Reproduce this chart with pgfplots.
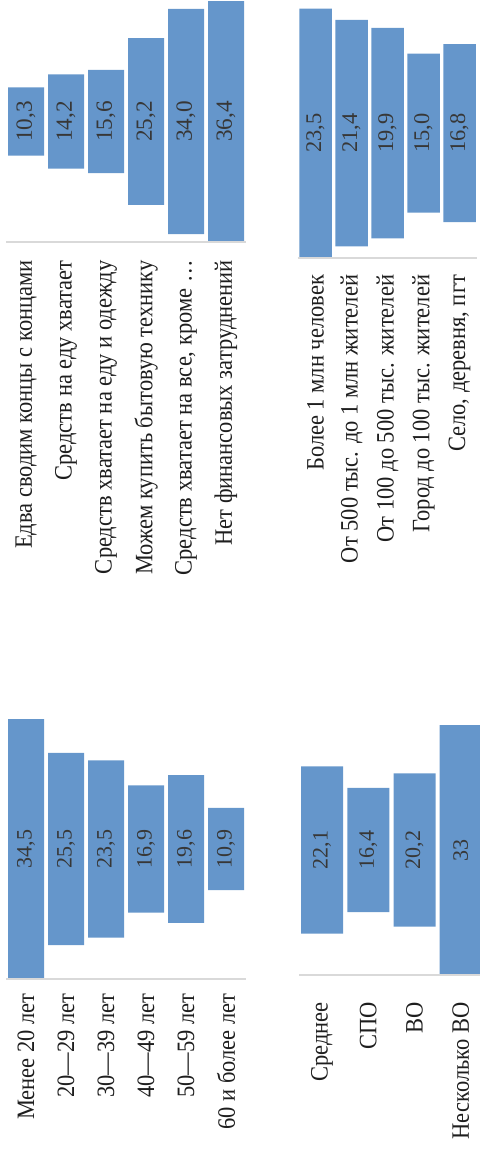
\documentclass[border=0pt]{standalone}
\usepackage{pgfplots}
\pgfplotsset{compat=1.18}
\usepackage{pgfplotstable}
\usepackage{fontspec}
\setmainfont{Liberation Serif}
\newfontfamily\cond[FakeStretch=0.9]{Liberation Serif}
\definecolor{barblue}{RGB}{101,150,203}
\definecolor{axisgray}{RGB}{217,217,217}
\definecolor{txt}{RGB}{30,30,30}
\definecolor{numtxt}{RGB}{55,55,55}

% x: category, off: invisible offset that centres the bar, v: value, mid: centre line
\pgfplotstableread{
x off v mid lab
0 13.05 10.3 18.2 10,3
1 11.1 14.2 18.2 14,2
2 10.4 15.6 18.2 15,6
3 5.6 25.2 18.2 25,2
4 1.2 34.0 18.2 34,0
5 0 36.4 18.2 36,4
}\finance

\pgfplotstableread{
x off v mid lab
0 0 23.5 11.75 23,5
1 1.05 21.4 11.75 21,4
2 1.8 19.9 11.75 19,9
3 4.25 15.0 11.75 15,0
4 3.35 16.8 11.75 16,8
}\settle

\pgfplotstableread{
x off v mid lab
0 0 34.5 17.25 34,5
1 4.5 25.5 17.25 25,5
2 5.5 23.5 17.25 23,5
3 8.8 16.9 17.25 16,9
4 7.45 19.6 17.25 19,6
5 11.8 10.9 17.25 10,9
}\age

\pgfplotstableread{
x off v mid lab
0 5.45 22.1 16.5 22,1
1 8.3 16.4 16.5 16,4
2 6.4 20.2 16.5 20,2
3 0 33 16.5 33
}\educ

\pgfplotsset{
  funnel/.style={
    scale only axis,
    ybar stacked,
    ymin=0,
    axis x line*=bottom,
    axis y line=none,
    x axis line style={draw=axisgray, line width=1pt},
    xtick=data,
    xtick style={draw=none},
    xticklabel style={rotate=90, anchor=east, inner sep=0pt, text=txt,
      font=\cond\fontsize{12.5}{14}\selectfont},
    axis on top,
    clip=false,
  },
  lblaxis/.style={scale only axis, hide axis, ymin=0, clip=false},
  lbl/.style={draw=none, mark=none,
    nodes near coords, point meta=explicit symbolic,
    every node near coord/.style={rotate=90, anchor=center,
      font=\fontsize{#1}{13}\selectfont, text=numtxt}},
  lbl/.default=11,
}

\begin{document}
\begin{tikzpicture}
\path[use as bounding box] (0,0) rectangle (240pt,-575pt);

% ---------- financial situation
\begin{axis}[funnel, at={(3pt,-121pt)}, anchor=south west,
  width=120pt, height=120.5pt, xmin=-0.5, xmax=5.5, ymax=36.4, bar width=18pt,
  xticklabel shift=9pt,
  xticklabels={Едва сводим концы с концами, Средств на еду хватает,
    Средств хватает на еду и одежду, Можем купить бытовую технику,
    {Средств хватает на все, кроме \dots}, Нет финансовых затруднений}]
\addplot[draw=none, fill=none] table[x=x, y=off]{\finance};
\addplot[draw=none, fill=barblue] table[x=x, y=v]{\finance};
\end{axis}
\begin{axis}[lblaxis, at={(3pt,-121pt)}, anchor=south west,
  width=120pt, height=120.5pt, xmin=-0.5, xmax=5.5, ymax=36.4]
\addplot[lbl=11.6] table[x=x, y=mid, meta=lab]{\finance};
\end{axis}

% ---------- settlement type
\begin{axis}[funnel, at={(148.75pt,-128.75pt)}, anchor=south west,
  width=90pt, height=124.4pt, xmin=-0.5, xmax=4.5, ymax=23.5, bar width=16.25pt,
  xticklabel shift=8.5pt,
  xticklabels={Более 1 млн человек, От 500 тыс. до 1 млн жителей,
    От 100 до 500 тыс. жителей, Город до 100 тыс. жителей,
    {Село, деревня, пгт}}]
\addplot[draw=none, fill=none] table[x=x, y=off]{\settle};
\addplot[draw=none, fill=barblue] table[x=x, y=v]{\settle};
\end{axis}
\begin{axis}[lblaxis, at={(148.75pt,-128.75pt)}, anchor=south west,
  width=90pt, height=124.4pt, xmin=-0.5, xmax=4.5, ymax=23.5]
\addplot[lbl=11.2] table[x=x, y=mid, meta=lab]{\settle};
\end{axis}

% ---------- age
\begin{axis}[funnel, at={(3pt,-489.5pt)}, anchor=south west,
  width=120pt, height=130pt, xmin=-0.5, xmax=5.5, ymax=34.5, bar width=18pt,
  xticklabel shift=7pt,
  xticklabels={Менее 20 лет, 20—29 лет, 30—39 лет, 40—49 лет, 50—59 лет, 60 и более лет}]
\addplot[draw=none, fill=none] table[x=x, y=off]{\age};
\addplot[draw=none, fill=barblue] table[x=x, y=v]{\age};
\end{axis}
\begin{axis}[lblaxis, at={(3pt,-489.5pt)}, anchor=south west,
  width=120pt, height=130pt, xmin=-0.5, xmax=5.5, ymax=34.5]
\addplot[lbl] table[x=x, y=mid, meta=lab]{\age};
\end{axis}

% ---------- education
\begin{axis}[funnel, at={(149.5pt,-487.5pt)}, anchor=south west,
  width=92.4pt, height=125pt, xmin=-0.5, xmax=3.5, ymax=33, bar width=21pt,
  xticklabel shift=13.5pt,
  xticklabels={Среднее, СПО, ВО, Несколько ВО}]
\addplot[draw=none, fill=none] table[x=x, y=off]{\educ};
\addplot[draw=none, fill=barblue] table[x=x, y=v]{\educ};
\end{axis}
\begin{axis}[lblaxis, at={(149.5pt,-487.5pt)}, anchor=south west,
  width=92.4pt, height=125pt, xmin=-0.5, xmax=3.5, ymax=33]
\addplot[lbl] table[x=x, y=mid, meta=lab]{\educ};
\end{axis}
\end{tikzpicture}
\end{document}
